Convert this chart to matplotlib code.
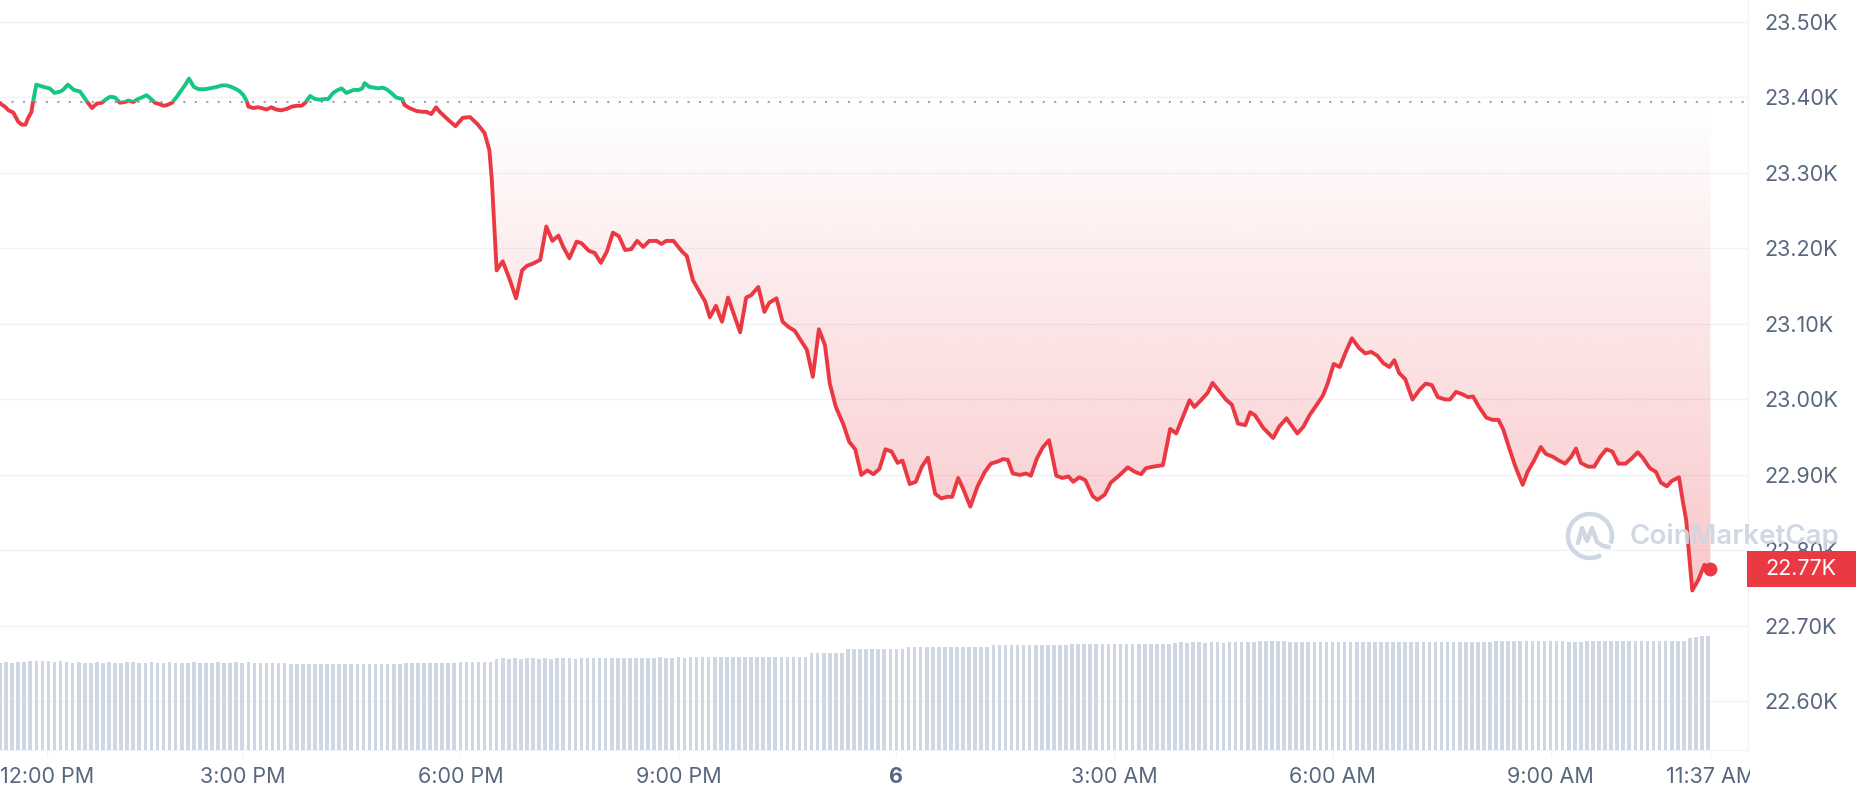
import numpy as np
import matplotlib.pyplot as plt
from matplotlib.patches import Rectangle, Arc, PathPatch
from matplotlib.path import Path
from matplotlib.transforms import Bbox

plt.rcParams['font.family'] = ['Inter', 'DejaVu Sans']

# BTC price, minutes after 11:40 AM
t_min = [0, 4, 7, 11, 15, 18, 21, 23, 26, 27, 30, 36, 41, 45, 50, 52, 56, 61, 66, 70,
         73, 76, 80, 84, 87, 91, 95, 99, 103, 106, 110, 114, 117, 121, 124, 128, 132, 135, 138, 142,
         146, 150, 153, 156, 160, 164, 169, 173, 179, 183, 187, 191, 195, 198, 201, 204, 205, 209, 213, 216,
         220, 224, 228, 232, 237, 241, 245, 249, 252, 256, 260, 264, 268, 271, 275, 279, 282, 286, 289, 292,
         296, 299, 301, 305, 309, 312, 316, 319, 323, 327, 332, 334, 338, 344, 349, 352, 356, 360, 363, 367,
         371, 376, 382, 388, 394, 400, 404, 406, 410, 415, 421, 426, 431, 435, 440, 446, 451, 456, 461, 465,
         470, 476, 480, 486, 491, 496, 501, 506, 511, 516, 521, 526, 531, 536, 542, 546, 550, 556, 560, 563,
         567, 572, 578, 582, 586, 591, 596, 601, 606, 611, 616, 620, 626, 631, 635, 641, 646, 651, 656, 660,
         666, 671, 676, 681, 685, 690, 696, 701, 706, 711, 716, 721, 726, 731, 736, 741, 745, 751, 756, 761,
         766, 772, 777, 782, 786, 791, 795, 801, 807, 813, 818, 824, 828, 832, 836, 842, 847, 851, 856, 861,
         866, 872, 877, 882, 886, 891, 896, 902, 906, 912, 917, 923, 931, 937, 942, 946, 952, 960, 966, 971,
         977, 982, 986, 992, 997, 1001, 1007, 1012, 1017, 1022, 1028, 1032, 1036, 1043, 1051, 1056, 1062, 1066, 1071, 1076,
         1081, 1087, 1092, 1096, 1101, 1106, 1111, 1116, 1122, 1127, 1132, 1137, 1142, 1147, 1151, 1155, 1160, 1166, 1172, 1177,
         1182, 1187, 1193, 1197, 1202, 1207, 1212, 1216, 1221, 1227, 1232, 1237, 1241, 1246, 1251, 1257, 1261, 1266, 1272, 1276,
         1282, 1287, 1292, 1297, 1301, 1305, 1311, 1316, 1321, 1326, 1331, 1336, 1342, 1347, 1352, 1356, 1362, 1367, 1371, 1376,
         1380, 1386, 1389, 1392, 1394, 1397, 1402, 1407, 1412]
price = [23392, 23388, 23383, 23380, 23368, 23364, 23364, 23372, 23381, 23392, 23417, 23414, 23412, 23406, 23408, 23410, 23417, 23410, 23408, 23399,
         23392, 23386, 23392, 23393, 23397, 23401, 23400, 23393, 23394, 23396, 23394, 23398, 23400, 23403, 23399, 23393, 23391, 23389, 23390, 23393,
         23401, 23410, 23417, 23425, 23414, 23411, 23411, 23412, 23414, 23416, 23416, 23414, 23411, 23408, 23403, 23394, 23388, 23386, 23387, 23386,
         23384, 23387, 23384, 23383, 23385, 23388, 23389, 23389, 23393, 23402, 23398, 23397, 23398, 23398, 23406, 23410, 23412, 23406, 23408, 23410,
         23410, 23412, 23419, 23414, 23413, 23412, 23413, 23411, 23406, 23400, 23398, 23390, 23386, 23382, 23381, 23381, 23378, 23387, 23381, 23375,
         23369, 23362, 23373, 23374, 23365, 23353, 23330, 23291, 23171, 23183, 23158, 23134, 23171, 23177, 23180, 23185, 23229, 23210, 23217, 23202,
         23187, 23209, 23207, 23197, 23194, 23181, 23196, 23221, 23216, 23198, 23199, 23210, 23202, 23210, 23210, 23206, 23210, 23210, 23202, 23196,
         23190, 23158, 23141, 23130, 23109, 23124, 23103, 23135, 23112, 23089, 23135, 23138, 23149, 23116, 23128, 23134, 23103, 23096, 23091, 23081,
         23066, 23030, 23093, 23072, 23021, 22990, 22968, 22944, 22934, 22900, 22906, 22901, 22908, 22934, 22931, 22916, 22919, 22888, 22891, 22911,
         22923, 22875, 22869, 22871, 22871, 22896, 22882, 22858, 22885, 22904, 22915, 22918, 22921, 22920, 22902, 22900, 22902, 22899, 22922, 22937,
         22946, 22899, 22896, 22898, 22891, 22897, 22893, 22872, 22867, 22874, 22890, 22898, 22910, 22904, 22901, 22909, 22911, 22913, 22961, 22955,
         22979, 22999, 22990, 23000, 23009, 23022, 23010, 23000, 22993, 22968, 22966, 22983, 22979, 22962, 22949, 22964, 22975, 22966, 22955, 22964,
         22979, 22993, 23005, 23021, 23047, 23043, 23063, 23081, 23068, 23061, 23063, 23058, 23048, 23043, 23052, 23035, 23027, 23000, 23013, 23021,
         23019, 23003, 23000, 23000, 23010, 23007, 23003, 23004, 22990, 22976, 22973, 22973, 22960, 22935, 22911, 22887, 22904, 22918, 22937, 22928,
         22924, 22919, 22915, 22924, 22935, 22916, 22911, 22911, 22924, 22934, 22931, 22915, 22915, 22922, 22930, 22923, 22909, 22904, 22890, 22885,
         22892, 22897, 22867, 22840, 22801, 22747, 22761, 22781, 22775]
open_price = 23394

# 24h volume (billions USD), one bar per 5 minutes
vol_24h = [26.2, 26.3, 26.2, 26.3, 26.3, 26.6, 26.7, 26.6, 26.6, 26.5,
           26.6, 26.3, 26.2, 26.3, 26.2, 26.2, 26.3, 26.2, 26.3, 26.2,
           26.2, 26.3, 26.3, 26.2, 26.2, 26.3, 26.2, 26.2, 26.3, 26.2,
           26.2, 26.2, 26.3, 26.2, 26.2, 26.2, 26.3, 26.2, 26.2, 26.3,
           26.2, 26.3, 26.2, 26.2, 26.1, 26.2, 26.2, 26.1, 25.8, 25.8,
           25.8, 25.7, 25.8, 25.8, 25.8, 25.7, 25.8, 25.8, 25.8, 25.8,
           25.8, 25.8, 25.9, 25.8, 25.9, 25.9, 25.9, 26.1, 26.1, 26.1,
           26.1, 26.1, 26.1, 26.2, 26.1, 26.2, 26.5, 26.5, 26.4, 26.5,
           26.5, 26.5, 27.4, 27.5, 27.4, 27.5, 27.4, 27.5, 27.5, 27.4,
           27.5, 27.4, 27.5, 27.5, 27.5, 27.4, 27.5, 27.5, 27.5, 27.5,
           27.6, 27.7, 27.7, 27.6, 27.7, 27.7, 27.7, 27.7, 27.7, 27.8,
           27.7, 27.7, 27.8, 27.7, 27.8, 27.8, 28.0, 28.0, 28.0, 28.0,
           28.0, 28.0, 28.0, 28.0, 28.0, 28.0, 28.0, 28.0, 28.0, 28.0,
           28.0, 28.0, 28.0, 28.0, 29.1, 29.1, 29.2, 29.1, 29.2, 29.2,
           30.2, 30.3, 30.3, 30.3, 30.4, 30.3, 30.3, 30.3, 30.4, 30.4,
           30.9, 30.9, 30.8, 30.9, 30.9, 30.9, 31.0, 30.9, 30.9, 30.9,
           30.9, 31.0, 31.0, 31.0, 31.5, 31.5, 31.5, 31.4, 31.5, 31.5,
           31.5, 31.5, 31.6, 31.5, 31.5, 31.5, 31.6, 31.8, 31.8, 31.8,
           31.8, 31.8, 31.8, 31.9, 31.8, 31.8, 31.8, 31.8, 31.9, 31.8,
           31.8, 31.8, 31.9, 31.9, 32.2, 32.3, 32.2, 32.3, 32.3, 32.2,
           32.3, 32.3, 32.2, 32.3, 32.3, 32.3, 32.3, 32.3, 32.7, 32.7,
           32.7, 32.7, 32.6, 32.4, 32.4, 32.4, 32.3, 32.4, 32.4, 32.4,
           32.4, 32.4, 32.4, 32.3, 32.4, 32.4, 32.4, 32.4, 32.3, 32.4,
           32.4, 32.4, 32.4, 32.4, 32.4, 32.3, 32.4, 32.4, 32.4, 32.4,
           32.4, 32.4, 32.4, 32.5, 32.4, 32.4, 32.5, 32.7, 32.7, 32.7,
           32.7, 32.7, 32.7, 32.7, 32.7, 32.7, 32.7, 32.7, 32.7, 32.5,
           32.5, 32.5, 32.7, 32.7, 32.7, 32.7, 32.7, 32.7, 32.7, 32.7,
           32.7, 32.7, 32.7, 32.7, 32.7, 32.7, 32.7, 32.7, 32.7, 33.6,
           34.0, 34.1, 34.1]
vol_t = np.arange(len(vol_24h)) * 5

xtick_pos = [39, 200, 380, 560, 740, 920, 1100, 1280, 1412]
xtick_labels = ['12:00 PM', '3:00 PM', '6:00 PM', '9:00 PM', '6', '3:00 AM', '6:00 AM', '9:00 AM', '11:37 AM']
ytick_vals = [22600, 22700, 22800, 22900, 23000, 23100, 23200, 23300, 23400, 23500]
ytick_labels = ['22.60K', '22.70K', '22.80K', '22.90K', '23.00K', '23.10K', '23.20K', '23.30K', '23.40K', '23.50K']

RED = '#ea3943'
GREEN = '#16c784'
GRAY = '#58667e'
LIGHT = '#f1f3f6'

fig = plt.figure(figsize=(18.58, 8.0), dpi=100)
ax = fig.add_axes([0, 50 / 800, 1748 / 1858, 750 / 800])
ax.set_xlim(0, 1443)
ax.set_ylim(22535.7, 23529.1)

# volume bars on a hidden twin axis
axv = ax.twinx()
axv.bar(vol_t, vol_24h, width=3.0, color='#cfd6e4', linewidth=0)
axv.set_ylim(0, 225)
axv.set_yticks([])
for s in axv.spines.values():
    s.set_visible(False)

t = np.array(t_min)
p = np.array(price)

# gradient fill below the opening price
below = np.minimum(p, open_price)
verts = [(t[0], open_price)] + list(zip(t, below)) + [(t[-1], open_price), (t[0], open_price)]
clip = Path(verts)
grad = np.zeros((256, 1, 4))
rgb = np.array([234, 57, 67]) / 255
grad[:, 0, :3] = rgb
grad[:, 0, 3] = np.linspace(0.28, 0.0, 256)
im = ax.imshow(grad, extent=[0, t[-1], p.min(), open_price], origin='lower',
               aspect='auto', interpolation='bilinear', zorder=1)
im.set_clip_path(PathPatch(clip, transform=ax.transData))

# opening price dotted line
ax.axhline(open_price, color='#9aa3b5', linewidth=1.5, linestyle=(0, (1, 4.5)), zorder=2)

# price line, green above open, red below
lg, = ax.plot(t, p, color=GREEN, linewidth=2.8, solid_joinstyle='round', zorder=3)
lr, = ax.plot(t, p, color=RED, linewidth=2.8, solid_joinstyle='round', zorder=3)
lg.set_clip_path(Rectangle((0, open_price), 5000, 5000, transform=ax.transData))
lr.set_clip_path(Rectangle((0, 0), 5000, open_price, transform=ax.transData))
ax.plot(t[-1], p[-1], 'o', color=RED, markersize=9, zorder=4)

# axes styling
ax.set_yticks(ytick_vals)
ax.set_yticklabels(ytick_labels)
ax.yaxis.tick_right()
ax.tick_params(axis='y', length=0, pad=12, labelsize=15.5, labelcolor=GRAY)
ax.set_xticks(xtick_pos)
ax.set_xticklabels(xtick_labels)
ax.tick_params(axis='x', length=5, color=LIGHT, pad=7, labelsize=15.5, labelcolor=GRAY)
ax.xaxis.get_ticklabels()[4].set_fontweight('bold')
last_lbl = ax.xaxis.get_ticklabels()[-1]
last_lbl.set_clip_box(Bbox([[0, 0], [1750, 800]]))
last_lbl.set_clip_on(True)
ax.grid(axis='y', color=LIGHT, linewidth=1)
ax.set_axisbelow(True)
for side in ['top', 'left']:
    ax.spines[side].set_visible(False)
for side in ['right', 'bottom']:
    ax.spines[side].set_color(LIGHT)

# overlay for watermark and current price tag (pixel coords)
ov = fig.add_axes([0, 0, 1, 1], zorder=10)
ov.set_xlim(0, 1858)
ov.set_ylim(0, 800)
ov.axis('off')
wm = '#cfd6e4'
ov.add_patch(Arc((1590, 264), 44, 44, theta1=-20, theta2=300, color=wm, linewidth=3.2))
m_path = Path([(1578, 257), (1582, 272), (1587, 259), (1592, 272), (1597, 258), (1603, 254), (1609, 253)])
ov.add_patch(PathPatch(m_path, fill=False, edgecolor=wm, linewidth=3.2, capstyle='round', joinstyle='round'))
ov.text(1630, 263, 'CoinMarketCap', color=wm, fontsize=20, fontweight='semibold', va='center', ha='left', alpha=0.95)

yd = ax.transData.transform((0, p[-1]))[1]
ov.add_patch(Rectangle((1747, yd - 18), 109, 36, color=RED, linewidth=0))
ov.text(1801, yd, '22.77K', color='white', fontsize=15.5, ha='center', va='center')

fig.savefig('out.png', dpi=100)
